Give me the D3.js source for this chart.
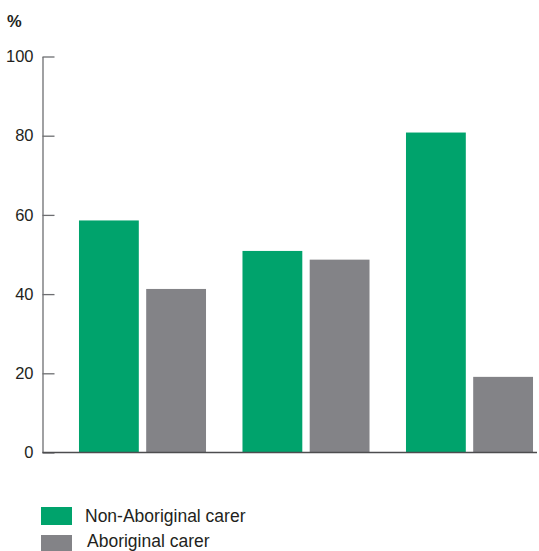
<!DOCTYPE html>
<html>
<head>
<meta charset="utf-8">
<script src="https://cdn.jsdelivr.net/npm/d3@7"></script>
<style>
  body { margin: 0; background: #fff; }
  text { font-family: "Liberation Sans", Arial, sans-serif; fill: #231f20; }
</style>
</head>
<body>
<div id="chart"></div>
<script>
// values
var groups = ["Group 1", "Group 2", "Group 3"];
var seriesNames = ["Non-Aboriginal carer", "Aboriginal carer"];
var nonAboriginal = [58.6, 50.9, 80.8];
var aboriginal = [41.3, 48.7, 19.1];
var yTicks = [0, 20, 40, 60, 80, 100];

var colors = ["#00a36c", "#838387"];

var width = 539, height = 551;

var svg = d3.select("#chart")
  .append("svg")
  .attr("width", width)
  .attr("height", height);

var y = d3.scaleLinear().domain([0, 100]).range([452.5, 56.5]);

var x = d3.scaleBand()
  .domain(groups)
  .range([60.75, 551.25])
  .paddingInner(0.223)
  .paddingOuter(0.1115);

var xs = d3.scaleBand()
  .domain(seriesNames)
  .range([0, x.bandwidth()])
  .paddingInner(0.11)
  .paddingOuter(0);

var axisX = 42.5;

// y axis, ticks point into the plot
var yAxis = svg.append("g")
  .attr("transform", "translate(" + axisX + ",0)")
  .call(d3.axisLeft(y).tickValues(yTicks).tickSizeInner(-12).tickSizeOuter(0).tickPadding(9));
yAxis.selectAll("path, line").attr("stroke", "#6d6e71").attr("stroke-width", 1.3);
yAxis.selectAll("text")
  .attr("font-size", 16.5)
  .style("font-family", "'Liberation Sans', Arial, sans-serif")
  .attr("fill", "#231f20");

svg.append("text")
  .attr("x", 7)
  .attr("y", 27)
  .attr("font-size", 16.5)
  .attr("font-weight", "bold")
  .text("%");

var data = groups.map(function (g, i) {
  return [
    { group: g, series: seriesNames[0], value: nonAboriginal[i], color: colors[0] },
    { group: g, series: seriesNames[1], value: aboriginal[i], color: colors[1] }
  ];
});

svg.selectAll(".grp")
  .data(data)
  .enter().append("g")
  .attr("class", "grp")
  .attr("transform", function (d) { return "translate(" + x(d[0].group) + ",0)"; })
  .selectAll("rect")
  .data(function (d) { return d; })
  .enter().append("rect")
  .attr("x", function (d) { return xs(d.series); })
  .attr("width", xs.bandwidth())
  .attr("y", function (d) { return y(d.value); })
  .attr("height", function (d) { return y(0) - y(d.value); })
  .attr("fill", function (d) { return d.color; });

// baseline
svg.append("line")
  .attr("x1", axisX)
  .attr("x2", 537)
  .attr("y1", y(0))
  .attr("y2", y(0))
  .attr("stroke", "#4d4d4f")
  .attr("stroke-width", 1.5);

// legend
var legend = svg.selectAll(".legend")
  .data(seriesNames)
  .enter().append("g")
  .attr("class", "legend")
  .attr("transform", function (d, i) { return "translate(41," + (507 + i * 28) + ")"; });

legend.append("rect")
  .attr("width", 31)
  .attr("height", 18)
  .attr("fill", function (d, i) { return colors[i]; });

legend.append("text")
  .attr("x", function (d, i) { return i === 0 ? 44 : 46; })
  .attr("y", function (d, i) { return i === 0 ? 14.7 : 11.5; })
  .attr("font-size", 17.5)
  .text(function (d) { return d; });
</script>
</body>
</html>
